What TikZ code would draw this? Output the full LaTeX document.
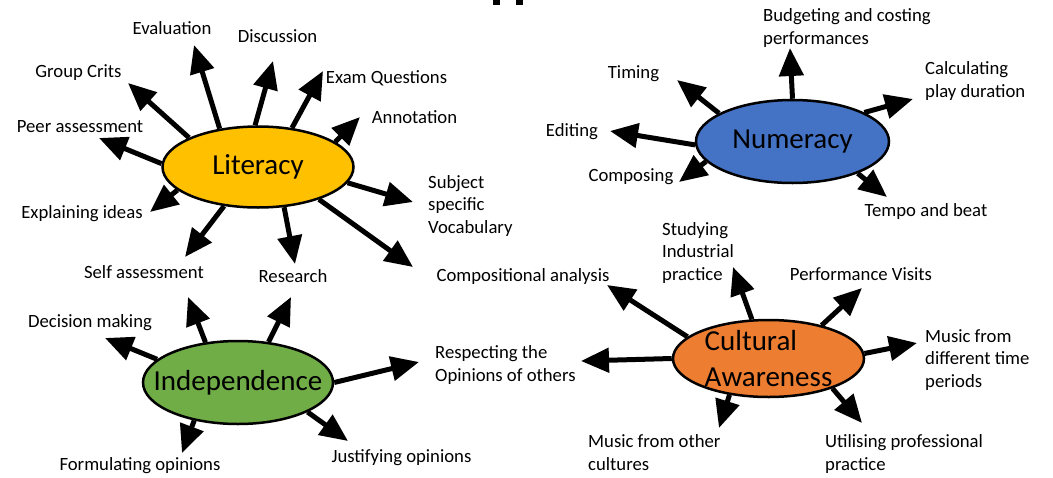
\documentclass[tikz,border=0pt]{standalone}
\usepackage{fontspec}
\setmainfont{Carlito}
\usetikzlibrary{arrows.meta}
\usetikzlibrary{shapes.geometric}
\definecolor{litcol}{HTML}{FFC000}
\definecolor{numcol}{HTML}{4472C4}
\definecolor{indcol}{HTML}{70AD47}
\definecolor{culcol}{HTML}{ED7D31}

\begin{document}
\begin{tikzpicture}[x=1pt, y=-1pt,
    hub/.style={draw, ellipse, line width=2.5pt, inner xsep=-40pt, inner ysep=-10pt, minimum width=191pt, minimum height=81pt, font=\fontsize{29}{36}\selectfont},
    lbl/.style={inner sep=0pt, anchor=base, font=\fontsize{18.7}{22.5}\selectfont},
    lblm/.style={lbl, anchor=base west, align=left},
    arr/.style={-{Triangle[length=28pt, width=24pt]}, line width=5pt}]
    \useasboundingbox (0,0) rectangle (1053,477);

    % cut-off title at the top edge
    \fill (493,0) rectangle (500,5);
    \fill (516,0) rectangle (523,5);

    % hubs
    \node[hub, fill=litcol] (lit) at (258,167) {Literacy};
    \node[hub, fill=numcol, minimum width=193pt, minimum height=83pt] (num) at (792.5,141.5) {Numeracy};
    \node[hub, fill=indcol, minimum width=190pt, minimum height=83pt] (ind) at (238,382.5) {Independence};
    \node[hub, fill=culcol, minimum height=77pt, align=left] (cul) at (768.5,358.5) {Cultural\\Awareness};

    % Literacy
    \node[lbl] (evaluation) at (172,34) {Evaluation};
    \node[lbl] (discussion) at (277.5,42) {Discussion};
    \node[lbl] (groupcrits) at (78.5,77) {Group Crits};
    \node[lbl] (examq) at (386.5,83) {Exam Questions};
    \node[lbl] (annotation) at (414.5,123) {Annotation};
    \node[lbl] (peer) at (80,132) {Peer assessment};
    \node[lbl] (explaining) at (82,218) {Explaining ideas};
    \node[lblm] (vocab) at (428,233) {Subject\\specific\\Vocabulary};
    \node[lbl] (selfass) at (144,278) {Self assessment};
    \node[lbl] (research) at (293,282) {Research};
    \node[lbl] (compan) at (523,281) {Compositional analysis};

    \coordinate (gcT) at (128,83);
    \coordinate (evT) at (194,45);
    \coordinate (diT) at (273,61);
    \coordinate (exT) at (323,71);
    \coordinate (anT) at (360,117);
    \coordinate (peT) at (99,138);
    \coordinate (ebT) at (150,212);
    \coordinate (svT) at (413,202);
    \coordinate (saT) at (185,257);
    \coordinate (reT) at (295,264);
    \coordinate (caT) at (413,267);

    \draw[arr] (lit.157.8) -- (gcT);
    \draw[arr] (lit.135) -- (evT);
    \draw[arr] (lit.94) -- (diT);
    \draw[arr] (lit.49.8) -- (exT);
    \draw[arr] (lit.18) -- (anT);
    \draw[arr] (lit.178) -- (peT);
    \draw[arr] (lit.196) -- (ebT);
    \draw[arr] (lit.350.7) -- (svT);
    \draw[arr] (lit.229.5) -- (saT);
    \draw[arr] (lit.303.4) -- (reT);
    \draw[arr] (lit.332.7) -- (caT);

    % Numeracy
    \node[lblm] (budget) at (763,44) {Budgeting and costing\\performances};
    \node[lbl] (timing) at (633.5,78) {Timing};
    \node[lblm] (calc) at (925,97) {Calculating\\play duration};
    \node[lbl] (editing) at (572,136) {Editing};
    \node[lbl] (composing) at (631,181) {Composing};
    \node[lbl] (tempo) at (926,216) {Tempo and beat};

    \coordinate (buT) at (790,48);
    \coordinate (tiT) at (677,80);
    \coordinate (clT) at (913,99);
    \coordinate (edT) at (610,131);
    \coordinate (coT) at (679,182);
    \coordinate (teT) at (887,197);

    \draw[arr] (num.90) -- (buT);
    \draw[arr] (num.159) -- (tiT);
    \draw[arr] (num.22.3) -- (clT);
    \draw[arr] (num.182) -- (edT);
    \draw[arr] (num.193.6) -- (coT);
    \draw[arr] (num.334) -- (teT);

    % Independence
    \node[lbl] (decision) at (90,327) {Decision making};
    \node[lbl] (formulating) at (140,470) {Formulating opinions};
    \node[lbl] (justifying) at (401.5,462) {Justifying opinions};
    \node[lblm] (respecting) at (435,381) {Respecting the\\Opinions of others};

    \coordinate (sa2T) at (188,297);
    \coordinate (re2T) at (291,297);
    \coordinate (dmT) at (105,338);
    \coordinate (roT) at (419,362);
    \coordinate (foT) at (182,453);
    \coordinate (joT) at (348,441);

    \draw[arr] (ind.129.2) -- (sa2T);
    \draw[arr] (ind.53.5) -- (re2T);
    \draw[arr] (ind.164.5) -- (dmT);
    \draw[arr] (ind.0) -- (roT);
    \draw[arr] (ind.221.3) -- (foT);
    \draw[arr] (ind.337) -- (joT);

    % Cultural Awareness
    \node[lblm] (industrial) at (662,280) {Studying\\Industrial\\practice};
    \node[lbl] (perfvisits) at (861,280) {Performance Visits};
    \node[lblm] (difftime) at (925,387) {Music from\\different time\\periods};
    \node[lblm] (othercult) at (588,470) {Music from other\\cultures};
    \node[lblm] (utilising) at (825,470) {Utilising professional\\practice};

    \coordinate (ca2T) at (607,285);
    \coordinate (siT) at (733,267);
    \coordinate (pvT) at (862,288);
    \coordinate (ro2T) at (581,361);
    \coordinate (mdT) at (917,343);
    \coordinate (moT) at (719,428);
    \coordinate (upT) at (862,423);

    \draw[arr] (cul.165.7) -- (ca2T);
    \draw[arr] (cul.113) -- (siT);
    \draw[arr] (cul.32) -- (pvT);
    \draw[arr] (cul.180) -- (ro2T);
    \draw[arr] (cul.3) -- (mdT);
    \draw[arr] (cul.223) -- (moT);
    \draw[arr] (cul.335.4) -- (upT);
\end{tikzpicture}
\end{document}
